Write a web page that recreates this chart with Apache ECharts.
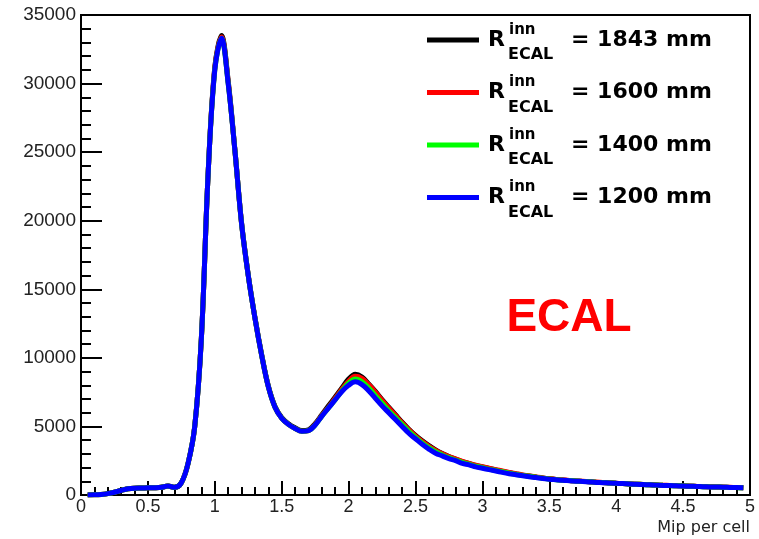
<!DOCTYPE html>
<html><head><meta charset="utf-8">
<script src="https://cdn.jsdelivr.net/npm/echarts@6/dist/echarts.min.js"></script>
<style>html,body{margin:0;padding:0;background:#fff}#c{width:759px;height:539px}</style>
</head><body><div id="c"></div>
<script>
const xs = [0.05,0.1,0.15,0.2,0.25,0.3,0.35,0.4,0.45,0.5,0.55,0.6,0.65,0.7,0.75,0.8,0.85,0.9,0.95,1.0,
1.05,1.1,1.15,1.2,1.25,1.3,1.35,1.4,1.45,1.5,
1.55,1.6,1.65,1.7,1.75,1.8,1.85,1.9,1.95,2.0,
2.05,2.1,2.15,2.2,2.25,2.3,2.35,2.4,2.45,2.5,
2.55,2.6,2.65,2.7,2.75,2.8,2.85,2.9,2.95,3.0,
3.05,3.1,3.15,3.2,3.25,3.3,3.35,3.4,3.45,3.5,
3.55,3.6,3.65,3.7,3.75,3.8,3.85,3.9,3.95,4.0,
4.05,4.1,4.15,4.2,4.25,4.3,4.35,4.4,4.45,4.5,
4.55,4.6,4.65,4.7,4.75,4.8,4.85,4.9,4.95];

const r1843 = [0,10,40,100,200,330,450,500,510,520,530,560,650,560,900,2300,5000,11500,23400,31200,
33500,30200,25200,19850,16050,12950,10250,7950,6450,5650,
5200,4900,4700,4750,5200,5850,6500,7150,7800,8450,
8800,8600,8100,7550,6950,6400,5850,5300,4800,4350,
3950,3600,3280,3020,2800,2620,2430,2300,2150,2040,
1930,1820,1720,1620,1540,1450,1380,1310,1240,1180,
1130,1090,1050,1020,990,960,930,905,880,855,
835,805,785,765,745,725,705,690,675,655,
645,625,610,595,585,570,555,540,525];

const r1600 = [0,10,40,100,200,330,450,500,510,520,530,560,650,560,900,2300,5000,11500,23400,31100,
33400,30100,25150,19800,16000,12900,10200,7900,6400,5600,
5150,4850,4650,4700,5150,5800,6400,7050,7700,8300,
8650,8500,8050,7500,6900,6350,5800,5250,4750,4300,
3900,3550,3250,3000,2800,2620,2450,2300,2170,2060,
1950,1850,1750,1650,1560,1470,1390,1320,1250,1190,
1140,1100,1060,1030,1000,970,940,910,885,860,
835,810,790,770,750,730,710,695,680,660,
650,630,615,600,590,575,560,545,530];

const r1400 = [0,10,40,100,200,330,450,500,510,520,530,560,650,560,900,2300,5000,11500,23400,31000,
33300,30000,25150,19800,16000,12900,10200,7900,6400,5600,
5150,4850,4650,4700,5100,5750,6350,6950,7600,8150,
8450,8250,7800,7250,6700,6150,5650,5150,4650,4200,
3800,3450,3150,2920,2720,2550,2380,2250,2100,2000,
1890,1790,1690,1590,1510,1430,1360,1290,1220,1170,
1120,1080,1050,1020,990,960,930,905,880,855,
835,805,785,765,745,725,705,690,675,655,
645,625,610,595,585,570,555,540,525];

const r1200 = [0,10,40,100,200,330,450,500,510,520,530,560,650,560,900,2300,5000,11500,23400,31000,
33300,30000,25150,19800,16000,12900,10200,7900,6400,5600,
5150,4850,4650,4700,5100,5750,6350,6950,7550,8000,
8250,8050,7600,7050,6500,6000,5500,5000,4500,4100,
3700,3350,3050,2850,2650,2500,2300,2200,2050,1950,
1850,1750,1650,1550,1480,1400,1330,1270,1200,1150,
1110,1070,1040,1010,980,950,920,900,870,850,
830,800,780,760,740,720,700,690,670,650,
640,620,610,590,580,570,550,540,520];

const seriesValues = [r1843, r1600, r1400, r1200];
const seriesLabels = ['= 1843 mm', '= 1600 mm', '= 1400 mm', '= 1200 mm'];
const seriesColors = ['#000000', '#ff0000', '#00ff00', '#0000ff'];
const detectorLabel = 'ECAL';
const xAxisTitle = 'Mip per cell';

const chart = echarts.init(document.getElementById('c'), null, {renderer: 'canvas'});

const series = seriesValues.map((vals, i) => ({
  name: seriesLabels[i],
  type: 'line',
  smooth: 0.35,
  showSymbol: false,
  symbol: 'none',
  data: xs.map((x, j) => [x, vals[j]]),
  lineStyle: {color: seriesColors[i], width: 5},
  itemStyle: {color: seriesColors[i]},
  z: 2 + i
}));

const legendGraphics = [];
seriesLabels.forEach((lab, i) => {
  const cy = 40 + 52.5 * i;
  legendGraphics.push({type: 'line', shape: {x1: 427, y1: cy, x2: 479, y2: cy},
    style: {stroke: seriesColors[i], lineWidth: 5}});
  legendGraphics.push({type: 'text', x: 488, y: cy,
    style: {text: 'R', font: 'bold 22px DejaVu Sans', fill: '#000', align: 'left', verticalAlign: 'middle'}});
  legendGraphics.push({type: 'text', x: 509, y: cy - 10,
    style: {text: 'inn', font: 'bold 15px DejaVu Sans', fill: '#000', align: 'left', verticalAlign: 'middle'}});
  legendGraphics.push({type: 'text', x: 508, y: cy + 15,
    style: {text: 'ECAL', font: 'bold 16px DejaVu Sans', fill: '#000', align: 'left', verticalAlign: 'middle'}});
  legendGraphics.push({type: 'text', x: 571, y: cy,
    style: {text: lab, font: 'bold 22px DejaVu Sans', fill: '#000', align: 'left', verticalAlign: 'middle'}});
});

chart.setOption({
  animation: false,
  backgroundColor: '#ffffff',
  grid: {left: 81, right: 9, top: 15, bottom: 44, show: true, borderColor: '#000', borderWidth: 2, containLabel: false},
  xAxis: {
    type: 'value', min: 0, max: 5, interval: 0.5,
    axisLine: {show: true, onZero: false, lineStyle: {color: '#000', width: 2}},
    axisTick: {show: true, inside: true, length: 14, lineStyle: {color: '#000', width: 2}},
    minorTick: {show: true, splitNumber: 5, length: 8, lineStyle: {color: '#000', width: 2}},
    splitLine: {show: false},
    axisLabel: {fontSize: 18, fontFamily: 'Liberation Sans', color: '#222', margin: 3,
      formatter: v => String(v)}
  },
  yAxis: {
    type: 'value', min: 0, max: 35000, interval: 5000,
    axisLine: {show: true, lineStyle: {color: '#000', width: 2}},
    axisTick: {show: true, inside: true, length: 21, lineStyle: {color: '#000', width: 2}},
    minorTick: {show: true, splitNumber: 5, length: 10, lineStyle: {color: '#000', width: 2}},
    splitLine: {show: false},
    axisLabel: {fontSize: 19, fontFamily: 'Liberation Sans', color: '#222', margin: 5,
      formatter: v => String(v)}
  },
  series: series,
  graphic: legendGraphics.concat([
    {type: 'text', x: 569, y: 318, style: {text: detectorLabel, font: 'bold 46px Liberation Sans', fill: '#ff0000', align: 'center', verticalAlign: 'middle'}},
    {type: 'text', x: 750, y: 528, style: {text: xAxisTitle, font: '16px DejaVu Sans', fill: '#222', align: 'right', verticalAlign: 'middle'}}
  ])
});
</script></body></html>
